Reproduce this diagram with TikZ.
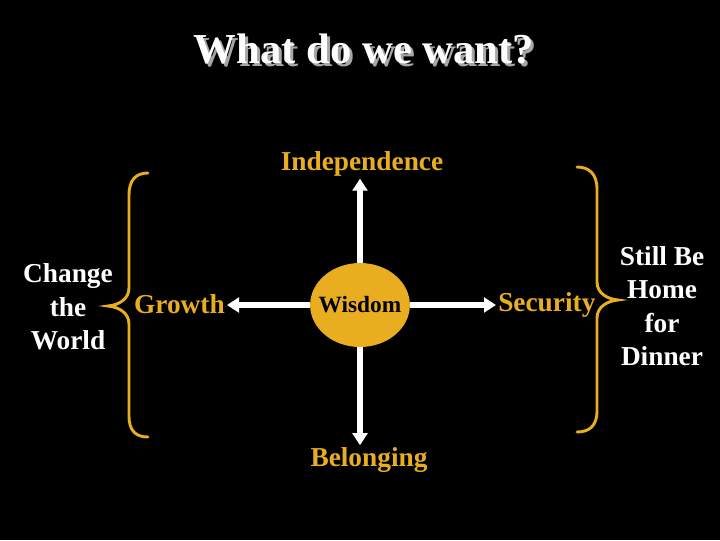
\documentclass[tikz,border=0pt]{standalone}
\usepackage{xcolor}
\usepackage{fontspec}
\setmainfont{Liberation Serif}
\usepackage{tikz}
\usetikzlibrary{arrows.meta,shapes.geometric}

\definecolor{ouro}{RGB}{232,174,32}

\begin{document}
\begin{tikzpicture}[x=0.75pt, y=-0.75pt,
    rotulo/.style={text=ouro, font=\bfseries\fontsize{20.5}{25}\selectfont, inner sep=1.5pt},
    lado/.style={text=white, font=\bfseries\fontsize{20.5}{25}\selectfont, align=center},
    seta/.style={white, line width=3.8pt, -{Triangle[length=9pt, width=11pt]}},
    chave/.style={ouro, line width=2.2pt, line cap=round}]

    % Fundo preto
    \fill[black] (0,0) rectangle (720,540);
    \useasboundingbox (0,0) rectangle (720,540);

    % Titulo com sombra
    \node[text=gray!70, font=\bfseries\fontsize{32}{38}\selectfont] at (367,52) {What do we want?};
    \node[text=white, font=\bfseries\fontsize{32}{38}\selectfont] (titulo) at (364,49) {What do we want?};

    % Centro (elipse dourada)
    \node[ellipse, fill=ouro, minimum width=73.5pt, minimum height=63pt, inner xsep=-4.5pt, inner ysep=0pt,
          font=\bfseries\fontsize{17.5}{21}\selectfont] (sabedoria) at (360,305) {Wisdom};

    % Rotulos em volta
    \node[rotulo] (indep) at (362,164) {Independence};
    \node[rotulo] (pertenca) at (369,460) {Belonging};
    \node[rotulo, anchor=east] (cresc) at (227,304) {Growth};
    \node[rotulo, anchor=west] (segur) at (496,305) {Security};

    % Setas saindo do centro
    \draw[seta] (sabedoria.north) -- (sabedoria.north |- indep.south);
    \draw[seta] (sabedoria.south) -- (sabedoria.south |- pertenca.north);
    \draw[seta] (sabedoria.west) -- (sabedoria.west -| cresc.east);
    \draw[seta] (sabedoria.east) -- (sabedoria.east -| segur.west);

    % Chave esquerda
    \draw[chave] (148,173) .. controls (136,173) and (129,180) .. (129,195)
        -- (129,288) .. controls (129,299) and (119,305) .. (108,306)
        .. controls (119,307) and (129,313) .. (129,324)
        -- (129,416) .. controls (129,431) and (136,437) .. (148,437);

    % Chave direita
    \draw[chave] (577,167) .. controls (589,167) and (597,174) .. (597,189)
        -- (597,282) .. controls (597,293) and (607,299) .. (618,300)
        .. controls (607,301) and (597,307) .. (597,318)
        -- (597,411) .. controls (597,426) and (589,432) .. (577,432);

    % Textos nas pontas das chaves
    \node[lado] (mudar) at (68,307) {Change\\the\\World};
    \node[lado] (casa) at (662,306) {Still Be\\Home\\for\\Dinner};

\end{tikzpicture}
\end{document}
